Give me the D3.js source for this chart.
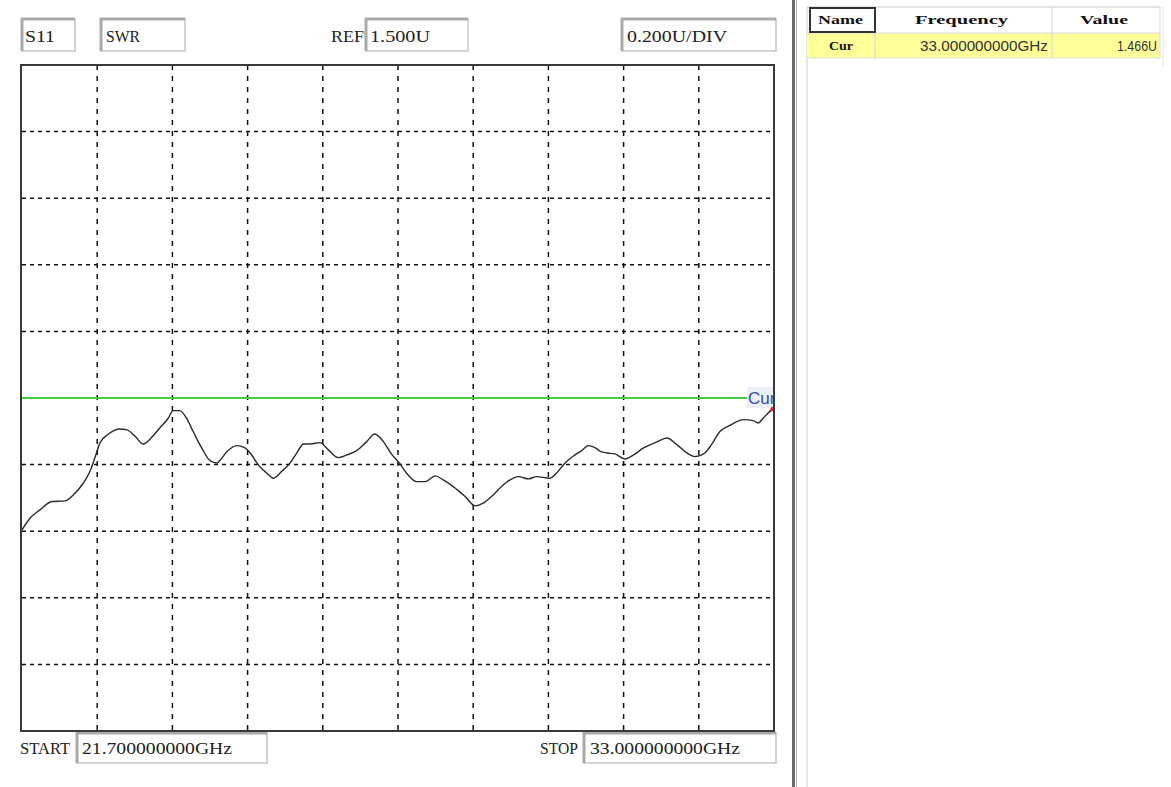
<!doctype html>
<html>
  <head>
    <meta charset="utf-8">
    <title>S11 SWR</title>
    <script src="https://cdnjs.cloudflare.com/ajax/libs/d3/7.8.5/d3.min.js"></script>
    <style>
      html, body { margin: 0; padding: 0; background: #fff; }
      svg { display: block; }
      .lbl { font-family: "Liberation Serif", serif; font-size: 17px; fill: #222; }
      .hdr { font-family: "Liberation Serif", serif; font-size: 13px; font-weight: bold; fill: #111; }
      .cell { font-family: "Liberation Sans", Arial, sans-serif; font-size: 14px; fill: #333; }
    </style>
  </head>
  <body>
    <div id="chart"></div>
    <script>
      // trace: frequency (GHz) and SWR (U)
      const freqGHz = [21.70, 21.82, 21.97, 22.15, 22.35, 22.47, 22.62, 22.72, 22.82, 22.87,
                       23.00, 23.17, 23.27, 23.40, 23.52, 23.65, 23.77, 23.90, 23.97, 24.07,
                       24.17, 24.27, 24.40, 24.53, 24.63, 24.68, 24.78, 24.93, 25.05, 25.13,
                       25.25, 25.38, 25.48, 25.60, 25.73, 25.83, 25.93, 26.03, 26.18, 26.30,
                       26.45, 26.58, 26.73, 26.88, 27.00, 27.13, 27.25, 27.38, 27.48, 27.63,
                       27.76, 27.91, 28.03, 28.18, 28.36, 28.51, 28.63, 28.78, 28.98, 29.16,
                       29.31, 29.43, 29.63, 29.73, 29.86, 30.01, 30.11, 30.21, 30.31, 30.39,
                       30.49, 30.61, 30.76, 30.89, 31.04, 31.24, 31.39, 31.54, 31.69, 31.81,
                       31.96, 32.06, 32.19, 32.34, 32.54, 32.69, 32.76, 32.84, 32.94, 33.00];
      const swr = [1.104, 1.139, 1.164, 1.189, 1.191, 1.209, 1.244, 1.279, 1.335, 1.365,
                   1.392, 1.407, 1.405, 1.385, 1.362, 1.382, 1.410, 1.440, 1.462, 1.462,
                   1.440, 1.400, 1.350, 1.311, 1.305, 1.314, 1.339, 1.357, 1.350, 1.335,
                   1.299, 1.274, 1.259, 1.279, 1.305, 1.335, 1.362, 1.362, 1.366, 1.345,
                   1.321, 1.329, 1.342, 1.369, 1.392, 1.369, 1.332, 1.302, 1.274, 1.249,
                   1.249, 1.266, 1.254, 1.234, 1.204, 1.176, 1.184, 1.209, 1.247, 1.264,
                   1.257, 1.264, 1.259, 1.274, 1.305, 1.329, 1.342, 1.357, 1.351, 1.340,
                   1.335, 1.332, 1.317, 1.329, 1.350, 1.368, 1.380, 1.360, 1.335, 1.324,
                   1.335, 1.360, 1.400, 1.418, 1.435, 1.432, 1.425, 1.440, 1.460, 1.466];

      const startGHz = 21.7, stopGHz = 33.0;
      const refValue = 1.5, perDiv = 0.2, divisions = 10;
      const topLabels = ["S11", "SWR", "1.500U", "0.200U/DIV"];
      const bottomLabels = ["21.700000000GHz", "33.000000000GHz"];
      const tableHeaders = ["Name", "Frequency", "Value"];
      const tableRow = ["Cur", "33.000000000GHz", "1.466U"];

      const W = 1171, H = 787;
      const plot = { left: 22, right: 774, top: 65, bottom: 731 };

      const svg = d3.select('#chart').append('svg')
        .attr('width', W).attr('height', H);

      const x = d3.scaleLinear().domain([startGHz, stopGHz]).range([plot.left, plot.right]);
      const y = d3.scaleLinear()
        .domain([refValue - perDiv * divisions / 2, refValue + perDiv * divisions / 2])
        .range([plot.bottom, plot.top]);

      // sunken text box like the instrument panel
      function box(x0, y0, w, h) {
        const g = svg.append('g');
        g.append('rect').attr('x', x0).attr('y', y0).attr('width', w).attr('height', h)
          .attr('fill', '#fff').attr('stroke', '#d4d4d4').attr('stroke-width', 2);
        g.append('path').attr('d', `M${x0},${y0 + h}V${y0}H${x0 + w}`)
          .attr('fill', 'none').attr('stroke', '#a9a9a9').attr('stroke-width', 3);
        return g;
      }
      function label(txt, x0, yb, len, cls) {
        const t = svg.append('text').attr('class', cls || 'lbl')
          .attr('x', x0).attr('y', yb).text(txt);
        if (len) t.attr('textLength', len).attr('lengthAdjust', 'spacingAndGlyphs');
        return t;
      }

      // top boxes
      box(22, 19, 53, 32); label(topLabels[0], 25, 42, 30);
      box(101, 19, 84, 32); label(topLabels[1], 106, 42, 34);
      label("REF", 331, 42, 33);
      box(366, 19, 102, 32); label(topLabels[2], 370, 42, 60);
      box(622, 19, 154, 32); label(topLabels[3], 627, 42, 100);

      // bottom boxes
      label("START", 20, 754, 50);
      box(77, 733, 190, 30); label(bottomLabels[0], 82, 754, 150);
      label("STOP", 540, 754, 38);
      box(584, 733, 192, 30); label(bottomLabels[1], 590, 754, 150);

      // grid
      const fStep = (stopGHz - startGHz) / divisions;
      const xGrid = d3.range(1, divisions).map(i => startGHz + i * fStep);
      const yGrid = d3.range(1, divisions).map(i => y.domain()[0] + i * perDiv);

      svg.append('g').selectAll('line').data(xGrid).join('line')
        .attr('x1', d => x(d)).attr('x2', d => x(d))
        .attr('y1', plot.top).attr('y2', plot.bottom)
        .attr('stroke', '#111').attr('stroke-width', 1.5)
        .attr('stroke-dasharray', '5,6');

      svg.append('g').selectAll('line').data(yGrid).join('line')
        .attr('x1', plot.left).attr('x2', plot.right)
        .attr('y1', d => y(d)).attr('y2', d => y(d))
        .attr('stroke', '#111').attr('stroke-width', 1.5)
        .attr('stroke-dasharray', '4,4');

      // reference line + marker label
      svg.append('line')
        .attr('x1', plot.left).attr('x2', 748)
        .attr('y1', y(refValue)).attr('y2', y(refValue))
        .attr('stroke', '#44cc44').attr('stroke-width', 2);

      svg.append('defs').append('clipPath').attr('id', 'clip')
        .append('rect').attr('x', plot.left).attr('y', plot.top)
        .attr('width', plot.right - plot.left).attr('height', plot.bottom - plot.top);

      const cur = svg.append('g').attr('clip-path', 'url(#clip)');
      cur.append('rect').attr('x', 747).attr('y', y(refValue) - 11)
        .attr('width', 30).attr('height', 21).attr('fill', '#e9eef8');
      cur.append('text').attr('x', 748).attr('y', y(refValue) + 6)
        .style('font-family', '"Liberation Sans", Arial, sans-serif')
        .style('font-size', '17px').attr('fill', '#3b4c9c').text('Cur');

      // trace
      const line = d3.line()
        .x((d, i) => x(freqGHz[i]))
        .y(d => y(d))
        .curve(d3.curveMonotoneX);

      svg.append('path').datum(swr)
        .attr('d', line)
        .attr('fill', 'none').attr('stroke', '#2a2a2a').attr('stroke-width', 1.4);

      // marker at current point
      const last = swr.length - 1;
      svg.append('path')
        .attr('d', d3.symbol().type(d3.symbolTriangle).size(14)())
        .attr('transform', `translate(${x(freqGHz[last]) - 2},${y(swr[last])})`)
        .attr('fill', '#dd2222');

      // plot frame
      svg.append('rect')
        .attr('x', plot.left - 1).attr('y', plot.top)
        .attr('width', plot.right - plot.left + 1).attr('height', plot.bottom - plot.top)
        .attr('fill', 'none').attr('stroke', '#3a3a3a').attr('stroke-width', 2);

      // splitter between chart and table
      svg.append('rect').attr('x', 792).attr('y', 0).attr('width', 3).attr('height', H).attr('fill', '#6a6a6a');
      svg.append('rect').attr('x', 796).attr('y', 0).attr('width', 1).attr('height', H).attr('fill', '#b5b5b5');
      svg.append('line').attr('x1', 807).attr('x2', 807).attr('y1', 7).attr('y2', H)
        .attr('stroke', '#d0d0d0').attr('stroke-width', 1);

      // marker table
      const cols = [810, 875, 1052, 1160];
      const rowTop = 8, rowMid = 33, rowBot = 58;

      svg.append('rect').attr('x', 807).attr('y', rowMid).attr('width', cols[3] - 807).attr('height', rowBot - rowMid)
        .attr('fill', '#ffff99');
      svg.append('line').attr('x1', 807).attr('x2', cols[3]).attr('y1', rowTop - 1).attr('y2', rowTop - 1)
        .attr('stroke', '#c8c8c8');
      svg.append('line').attr('x1', 807).attr('x2', cols[3]).attr('y1', rowMid).attr('y2', rowMid)
        .attr('stroke', '#d8d8d8');
      svg.append('line').attr('x1', 807).attr('x2', cols[3]).attr('y1', rowBot).attr('y2', rowBot)
        .attr('stroke', '#e0e0e0');
      svg.append('g').selectAll('line').data(cols.slice(1)).join('line')
        .attr('x1', d => d).attr('x2', d => d).attr('y1', rowTop - 1).attr('y2', rowBot)
        .attr('stroke', '#d4d4d4');
      svg.append('line').attr('x1', 1163).attr('x2', 1163).attr('y1', rowTop - 1).attr('y2', 66)
        .attr('stroke', '#e4e4e4');
      // focused header cell
      svg.append('rect').attr('x', cols[0]).attr('y', rowTop).attr('width', cols[1] - cols[0]).attr('height', rowMid - rowTop - 1)
        .attr('fill', 'none').attr('stroke', '#333').attr('stroke-width', 2);

      const hdrLen = [45, 93, 48];
      tableHeaders.forEach((h, i) => {
        const cx = (cols[i] + cols[i + 1]) / 2 - 2;
        svg.append('text').attr('class', 'hdr')
          .attr('x', cx - hdrLen[i] / 2).attr('y', 24)
          .attr('textLength', hdrLen[i]).attr('lengthAdjust', 'spacingAndGlyphs')
          .text(h);
      });
      svg.append('text').attr('class', 'hdr')
        .attr('x', 829).attr('y', 50).attr('textLength', 24).attr('lengthAdjust', 'spacingAndGlyphs')
        .text(tableRow[0]);
      svg.append('text').attr('class', 'cell')
        .attr('x', 920).attr('y', 51).attr('textLength', 128).attr('lengthAdjust', 'spacingAndGlyphs')
        .text(tableRow[1]);
      svg.append('text').attr('class', 'cell')
        .attr('x', 1117).attr('y', 51).attr('textLength', 40).attr('lengthAdjust', 'spacingAndGlyphs')
        .text(tableRow[2]);
    </script>
  </body>
</html>
